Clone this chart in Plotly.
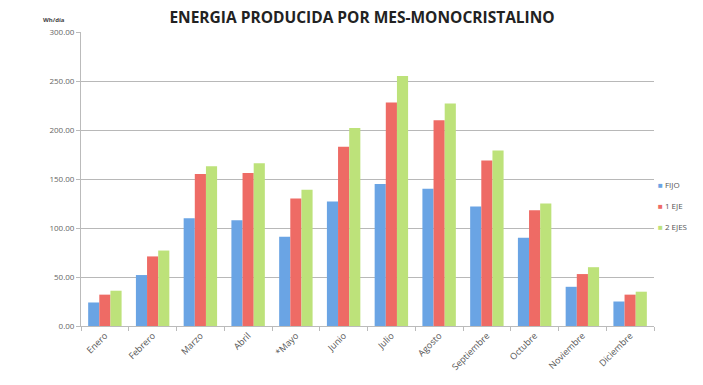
import plotly.graph_objects as go

meses = ["Enero", "Febrero", "Marzo", "Abril", "*Mayo", "Junio", "Julio",
         "Agosto", "Septiembre", "Octubre", "Noviembre", "Diciembre"]
fijo = [24, 52, 110, 108, 91, 127, 145, 140, 122, 90, 40, 25]
un_eje = [32, 71, 155, 156, 130, 183, 228, 210, 169, 118, 53, 32]
dos_ejes = [36, 77, 163, 166, 139, 202, 255, 227, 179, 125, 60, 35]

series = [("FIJO", fijo, "#6aa4e4"), ("1 EJE", un_eje, "#ee6b65"), ("2 EJES", dos_ejes, "#bde27a")]
legend_y = [0.48, 0.41, 0.338]

fig = go.Figure()
for name, vals, col in series:
    fig.add_trace(go.Bar(x=meses, y=vals, name=name, showlegend=False,
                         marker=dict(color=col, line=dict(width=0))))

annotations = [dict(text="<b>Wh/día</b>", x=-0.025, y=1.0, xref="paper", yref="paper",
                    xanchor="right", yanchor="bottom", showarrow=False, yshift=6,
                    font=dict(size=6, color="#444444"))]
for (name, vals, col), ly in zip(series, legend_y):
    annotations.append(dict(
        text=f"<span style='color:{col}'>■</span> {name}", x=1.004, y=ly,
        xref="paper", yref="paper", xanchor="left", yanchor="middle", showarrow=False,
        font=dict(size=8, color="#555555")))

fig.update_layout(
    width=703, height=385,
    margin=dict(l=81, r=49, t=32, b=57),
    paper_bgcolor="white", plot_bgcolor="white",
    barmode="group", bargap=0.3, bargroupgap=0,
    showlegend=False,
    font=dict(family="Open Sans, Liberation Sans, sans-serif", color="#555555", size=8),
    title=dict(text="<b>ENERGIA PRODUCIDA POR MES-MONOCRISTALINO</b>", x=0.515, xanchor="center",
               y=0.955, yanchor="middle", font=dict(size=15.5, color="#222222", family="Open Sans, sans-serif")),
    xaxis=dict(tickangle=-45, showline=True, linecolor="#bbbbbb", ticks="outside", tickson="boundaries",
               ticklen=4, tickcolor="#bbbbbb", tickfont=dict(size=9, color="#555555")),
    yaxis=dict(range=[0, 300], dtick=50, tickformat=".2f", showgrid=True, gridcolor="#b8b8b8",
               showline=True, linecolor="#bbbbbb", ticks="outside", ticklen=4, tickcolor="#bbbbbb",
               tickfont=dict(size=8, color="#666666"), zeroline=False),
    annotations=annotations,
)

fig.write_html("out.html")
